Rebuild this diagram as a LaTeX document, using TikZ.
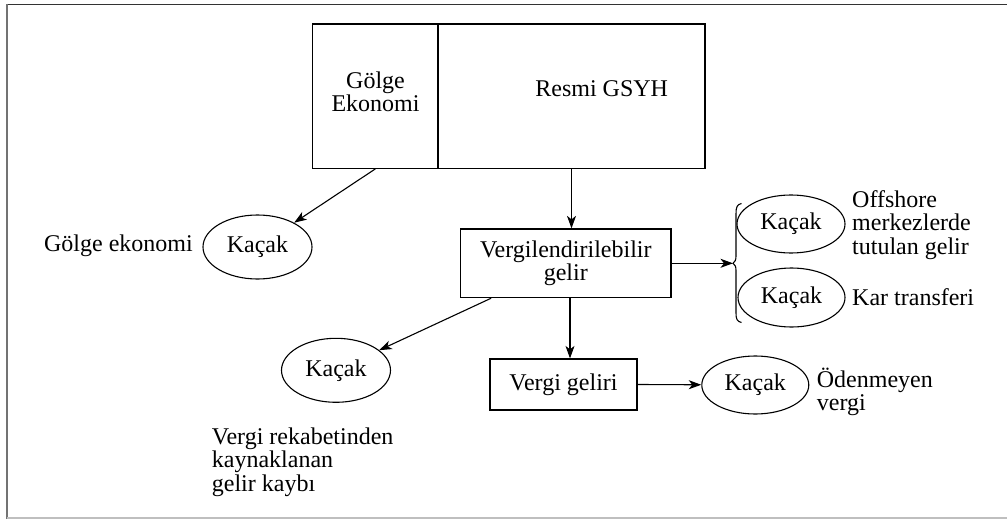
\documentclass[tikz,border=0pt]{standalone}
\usepackage{fontspec}
\setmainfont{Liberation Serif}
\usetikzlibrary{shapes.geometric,arrows.meta,calc}
\begin{document}
\begin{tikzpicture}[x=1pt,y=-1pt,
  every node/.style={font=\fontsize{24}{23.5}\selectfont, inner sep=0pt},
  boxnode/.style={draw, line width=1.2pt, inner sep=0pt},
  oval/.style={draw, ellipse, line width=1.1pt, inner sep=0pt},
  arr/.style={line width=1.1pt, -{Stealth[length=12.5pt,width=9pt,inset=3.5pt]}},
  lbl/.style={align=left, anchor=north west}
]
\useasboundingbox (0,0) rectangle (1007,519);
% frame
\draw[line width=1.6pt, black!80] (6,4.5) -- (1007,4.5);
\draw[line width=1.8pt, black!55] (7,4) -- (7,518.5);
\draw[line width=1.3pt, black!25] (7,518) -- (1007,518);
% top boxes
\node[boxnode, minimum width=125.3pt, minimum height=144.3pt] (gbox) at (375.35,96.15) {};
\node[boxnode, minimum width=267pt, minimum height=144.3pt] (rbox) at (571.5,96.15) {};
\node[align=center, anchor=north] (gtxt) at (375.5,71.2) {Gölge\\Ekonomi};
\node[anchor=base] (rtxt) at (601.7,96.7) {Resmi GSYH};
% boxes
\node[boxnode, minimum width=210.3pt, minimum height=68.7pt, align=center] (vbox) at (565.8,263.3) {Vergilendirilebilir\\gelir};
\node[boxnode, minimum width=147pt, minimum height=51pt] (vgbox) at (563.5,384.5) {Vergi geliri};
% ellipses
\node[oval, minimum width=109pt, minimum height=64pt] (k1) at (257.5,247) {Kaçak};
\node[oval, minimum width=108pt, minimum height=58pt] (k2) at (791,224) {Kaçak};
\node[oval, minimum width=107pt, minimum height=59pt] (k3) at (791.5,297.5) {Kaçak};
\node[oval, minimum width=109pt, minimum height=64pt] (k4) at (336,370.3) {Kaçak};
\node[oval, minimum width=107pt, minimum height=58pt] (k5) at (755.3,385) {Kaçak};
% labels
\node[anchor=base east] (lg) at (193,251.5) {Gölge ekonomi};
\node[lbl] (loff) at (852,190) {Offshore\\merkezlerde\\tutulan gelir};
\node[anchor=base west] (lkar) at (852,305) {Kar transferi};
\node[lbl] (lode) at (816.7,367.8) {Ödenmeyen\\vergi};
\node[lbl] (lver) at (211.7,427.3) {Vergi rekabetinden\\kaynaklanan\\gelir kaybı};
% connectors
\coordinate (bt) at (733,263.3);
\draw[arr] (gbox.south) -- (k1);
\draw[arr] (rbox.south) -- (rbox.south |- vbox.north);
\draw[arr] (vbox.east) -- (vbox.east -| bt);
\coordinate (vsw) at ($(vbox.south west)+(31,0)$);
\draw[arr] (vsw) -- (k4);
\coordinate (vs) at ($(vbox.south)+(4.2,0)$);
\draw[arr] (vs) -- (vs |- vgbox.north);
\draw[arr] (vgbox.east) -- (k5);
% brace
\draw[line width=1.1pt] (741.5,203.5) .. controls (737,204.5) and (736,207) .. (736,214) -- (736,256) .. controls (736,260) and (735,262) .. (bt) .. controls (735,264.5) and (736,266.5) .. (736,270.5) -- (736,313) .. controls (736,319) and (737,321.5) .. (741.5,322.5);
\end{tikzpicture}
\end{document}
